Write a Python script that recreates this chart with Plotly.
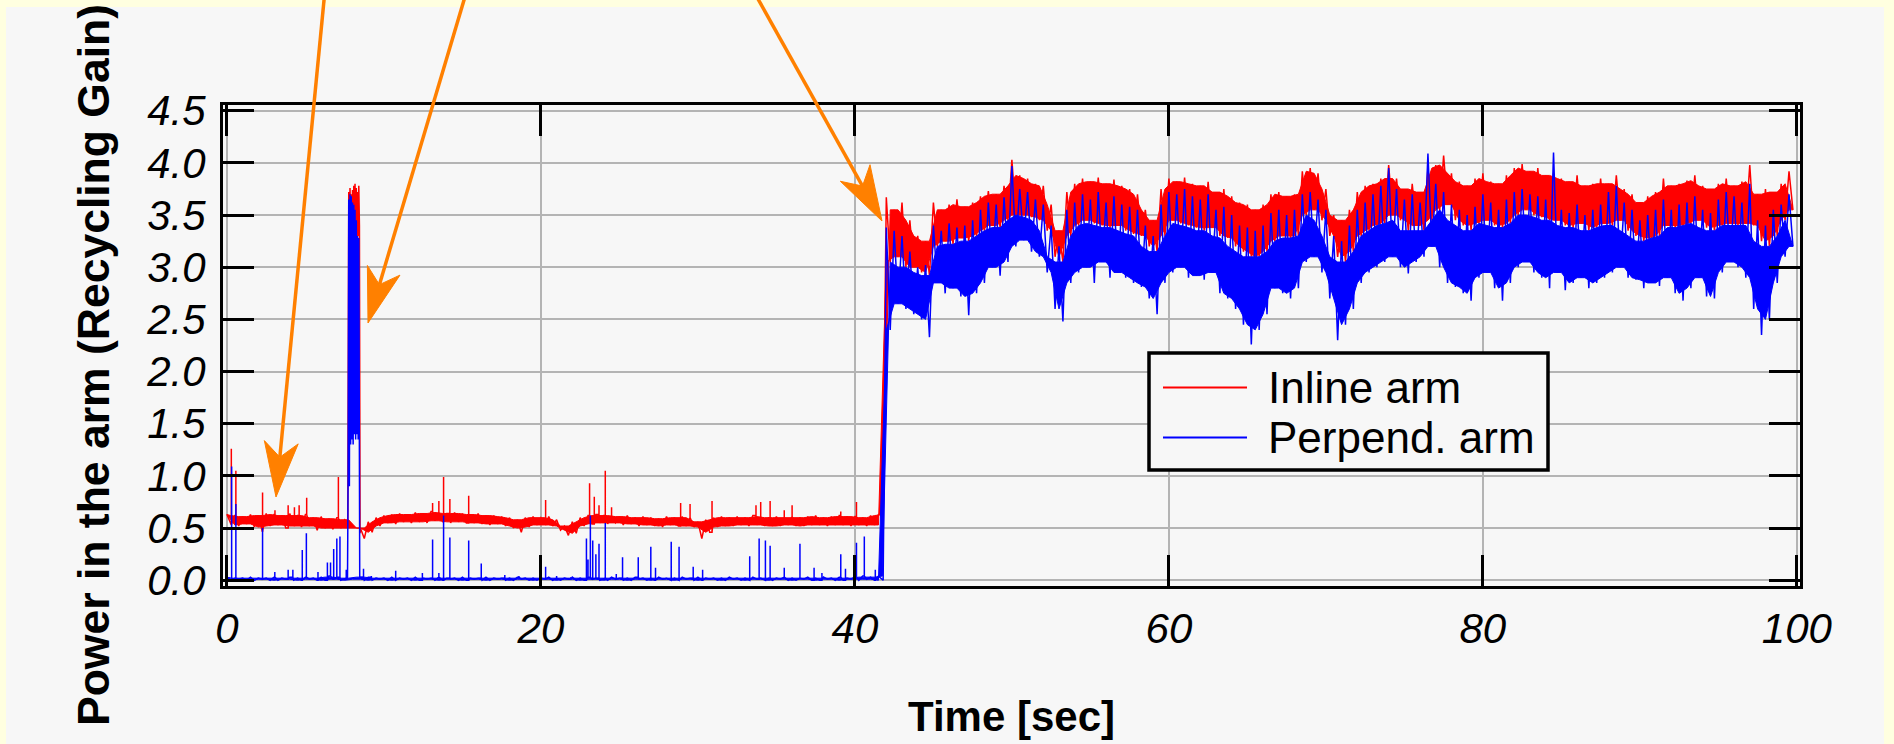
import plotly.graph_objects as go

# ---------------- data ----------------
# envelope of each trace in 0.5 s bins: bin start times 0.0 ... 99.5 s
bin_start = [i * 0.5 for i in range(200)]

inline_hi = [
    0.63, 0.62, 0.61, 0.63, 0.62, 0.64, 0.63, 0.62, 0.64, 0.62,
    0.63, 0.60, 0.61, 0.59, 0.60, 0.58, 0.60, 0.50, 0.56, 0.60,
    0.62, 0.63, 0.64, 0.63, 0.65, 0.64, 0.66, 0.65, 0.64, 0.65,
    0.64, 0.63, 0.64, 0.62, 0.62, 0.61, 0.60, 0.58, 0.60, 0.61,
    0.60, 0.61, 0.58, 0.52, 0.56, 0.60, 0.62, 0.63, 0.62, 0.62,
    0.61, 0.62, 0.60, 0.61, 0.60, 0.59, 0.61, 0.60, 0.61, 0.60,
    0.56, 0.58, 0.60, 0.61, 0.60, 0.61, 0.60, 0.62, 0.61, 0.60,
    0.61, 0.60, 0.61, 0.60, 0.61, 0.62, 0.60, 0.61, 0.62, 0.61,
    0.61, 0.60, 0.62, 0.63,
    3.67, 3.55, 3.62, 3.45, 3.30, 3.25, 3.62, 3.55, 3.60, 3.65,
    3.58, 3.62, 3.68, 3.73, 3.70, 3.78, 4.03, 3.88, 3.85, 3.80,
    3.78, 3.60, 3.35, 3.72, 3.80, 3.85, 3.82, 3.86, 3.80, 3.84,
    3.78, 3.75, 3.70, 3.55, 3.45, 3.75, 3.85, 3.82, 3.86, 3.80,
    3.78, 3.82, 3.72, 3.75, 3.68, 3.62, 3.60, 3.55, 3.60, 3.70,
    3.72, 3.68, 3.70, 3.92, 3.95, 3.90, 3.75, 3.50, 3.45, 3.55,
    3.72, 3.78, 3.80, 3.85, 3.98, 3.85, 3.75, 3.80, 3.72, 3.95,
    3.98, 4.07, 3.90, 3.82, 3.78, 3.85, 3.90, 3.82, 3.80, 3.88,
    3.95, 3.99, 3.92, 3.95, 3.88, 3.90, 3.85, 3.82, 3.88, 3.78,
    3.80, 3.85, 3.80, 3.88, 3.75, 3.70, 3.62, 3.68, 3.72, 3.85,
    3.78, 3.80, 3.83, 3.88, 3.78, 3.75, 3.80, 3.85, 3.78, 3.82,
    3.98, 3.70, 3.75, 3.72, 3.80, 3.92,
]
# lower edge of the visible red; above 42 s it is also where the solid blue ends
inline_lo = [
    0.53, 0.52, 0.54, 0.51, 0.47, 0.52, 0.53, 0.50, 0.52, 0.51,
    0.52, 0.48, 0.50, 0.49, 0.50, 0.48, 0.50, 0.40, 0.46, 0.52,
    0.55, 0.54, 0.56, 0.55, 0.56, 0.55, 0.57, 0.56, 0.55, 0.56,
    0.55, 0.55, 0.54, 0.53, 0.54, 0.52, 0.50, 0.46, 0.51, 0.53,
    0.53, 0.52, 0.48, 0.43, 0.45, 0.52, 0.54, 0.55, 0.54, 0.55,
    0.53, 0.54, 0.52, 0.53, 0.52, 0.51, 0.53, 0.52, 0.52, 0.51,
    0.40, 0.46, 0.51, 0.52, 0.52, 0.53, 0.52, 0.53, 0.52, 0.52,
    0.52, 0.53, 0.52, 0.52, 0.53, 0.53, 0.52, 0.53, 0.53, 0.52,
    0.53, 0.52, 0.53, 0.52,
    3.05, 3.10, 3.00, 3.00, 2.95, 2.92, 3.20, 3.25, 3.22, 3.28,
    3.25, 3.30, 3.35, 3.40, 3.38, 3.45, 3.50, 3.50, 3.48, 3.45,
    3.35, 3.10, 3.05, 3.30, 3.40, 3.45, 3.42, 3.40, 3.38, 3.40,
    3.35, 3.32, 3.30, 3.20, 3.15, 3.30, 3.45, 3.42, 3.40, 3.38,
    3.35, 3.38, 3.30, 3.28, 3.20, 3.15, 3.10, 3.10, 3.15, 3.25,
    3.30, 3.28, 3.30, 3.50, 3.55, 3.45, 3.30, 3.10, 3.05, 3.15,
    3.30, 3.35, 3.40, 3.42, 3.50, 3.45, 3.35, 3.40, 3.35, 3.45,
    3.55, 3.60, 3.45, 3.40, 3.35, 3.42, 3.45, 3.40, 3.38, 3.42,
    3.50, 3.55, 3.50, 3.48, 3.45, 3.45, 3.40, 3.38, 3.42, 3.35,
    3.38, 3.42, 3.40, 3.45, 3.35, 3.30, 3.25, 3.28, 3.30, 3.40,
    3.38, 3.40, 3.42, 3.45, 3.38, 3.35, 3.40, 3.42, 3.40, 3.42,
    3.40, 3.25, 3.20, 3.30, 3.45, 3.55,
]
perp_hi = [
    0.03, 0.02, 0.02, 0.03, 0.02, 0.02, 0.03, 0.02, 0.03, 0.02,
    0.03, 0.02, 0.03, 0.04, 0.03, 0.02, 0.03, 0.03, 0.03, 0.02,
    0.02, 0.03, 0.02, 0.02, 0.03, 0.02, 0.02, 0.03, 0.02, 0.02,
    0.03, 0.02, 0.02, 0.03, 0.02, 0.02, 0.02, 0.03, 0.02, 0.02,
    0.02, 0.03, 0.02, 0.02, 0.03, 0.02, 0.03, 0.02, 0.02, 0.03,
    0.02, 0.02, 0.03, 0.02, 0.02, 0.03, 0.02, 0.02, 0.03, 0.02,
    0.03, 0.02, 0.02, 0.02, 0.03, 0.02, 0.02, 0.03, 0.02, 0.02,
    0.02, 0.03, 0.02, 0.02, 0.03, 0.02, 0.03, 0.02, 0.03, 0.02,
    0.03, 0.04, 0.03, 0.04,
    3.38, 3.35, 3.30, 3.15, 3.00, 3.02, 3.40, 3.35, 3.42, 3.38,
    3.40, 3.45, 3.55, 3.62, 3.60, 3.67, 3.97, 3.75, 3.72, 3.65,
    3.60, 3.40, 3.20, 3.55, 3.62, 3.70, 3.65, 3.72, 3.62, 3.68,
    3.60, 3.58, 3.55, 3.40, 3.30, 3.60, 3.72, 3.70, 3.75, 3.68,
    3.65, 3.70, 3.55, 3.58, 3.50, 3.40, 3.38, 3.35, 3.40, 3.52,
    3.55, 3.50, 3.55, 3.70, 3.72, 3.65, 3.55, 3.30, 3.25, 3.40,
    3.55, 3.62, 3.70, 3.78, 3.95, 3.75, 3.65, 3.70, 3.62, 4.09,
    3.80, 3.72, 3.60, 3.55, 3.50, 3.58, 3.70, 3.62, 3.55, 3.65,
    3.72, 3.75, 3.70, 3.68, 3.65, 4.10, 3.55, 3.52, 3.60, 3.50,
    3.55, 3.60, 3.72, 3.78, 3.62, 3.55, 3.45, 3.50, 3.55, 3.65,
    3.55, 3.60, 3.62, 3.68, 3.55, 3.52, 3.65, 3.72, 3.68, 3.62,
    3.80, 3.45, 3.40, 3.55, 3.60, 3.70,
]
perp_lo = [
    0.00, 0.01, 0.00, 0.00, 0.01, 0.00, 0.00, 0.01, 0.00, 0.00,
    0.01, 0.00, 0.00, 0.01, 0.00, 0.00, 0.01, 0.00, 0.00, 0.01,
    0.00, 0.00, 0.01, 0.00, 0.00, 0.01, 0.00, 0.00, 0.01, 0.00,
    0.00, 0.01, 0.00, 0.00, 0.01, 0.00, 0.00, 0.01, 0.00, 0.00,
    0.01, 0.00, 0.00, 0.01, 0.00, 0.00, 0.01, 0.00, 0.00, 0.01,
    0.00, 0.00, 0.01, 0.00, 0.00, 0.01, 0.00, 0.00, 0.01, 0.00,
    0.00, 0.01, 0.00, 0.00, 0.01, 0.00, 0.00, 0.01, 0.00, 0.00,
    0.01, 0.00, 0.00, 0.01, 0.00, 0.00, 0.01, 0.00, 0.00, 0.01,
    0.00, 0.01, 0.00, 0.00,
    2.40, 2.65, 2.60, 2.55, 2.50, 2.33, 2.85, 2.75, 2.80, 2.72,
    2.54, 2.75, 2.85, 3.00, 2.92, 3.05, 3.20, 3.26, 3.15, 3.10,
    2.95, 2.60, 2.48, 2.85, 2.95, 3.00, 2.85, 3.05, 2.90, 2.95,
    2.90, 2.85, 2.81, 2.70, 2.55, 2.85, 2.95, 3.00, 2.90, 2.92,
    2.88, 2.95, 2.75, 2.70, 2.60, 2.45, 2.26, 2.40, 2.55, 2.80,
    2.75, 2.70, 2.80, 3.05, 3.10, 2.95, 2.70, 2.30, 2.45, 2.60,
    2.85, 2.95, 3.00, 3.05, 3.10, 3.00, 2.94, 3.05, 3.10, 3.20,
    3.00, 2.85, 2.81, 2.75, 2.68, 2.90, 2.95, 2.80, 2.68, 2.85,
    3.00, 3.05, 2.95, 2.90, 2.80, 2.95, 2.78, 2.85, 2.90, 2.80,
    2.85, 2.90, 2.95, 3.00, 2.90, 2.88, 2.80, 2.85, 2.82, 2.90,
    2.75, 2.68, 2.80, 2.90, 2.72, 2.70, 2.95, 3.05, 3.00, 2.90,
    2.60, 2.35, 2.50, 2.85, 3.10, 3.20,
]

# isolated single spikes (time s, peak value)
inline_spike_t = [0.28, 0.57, 2.27, 3.06, 3.9, 4.3, 4.6, 5.08, 7.1, 13.1, 13.5,
                  13.8, 14.2, 15.4, 20.3, 23.1, 23.4, 23.7, 24.1, 24.5, 28.9,
                  29.5, 30.9, 33.7, 34.0, 34.6, 35.5, 36.0, 39.1, 40.1, 41.7]
inline_spike_v = [1.26, 1.05, 0.84, 0.67, 0.72, 0.70, 0.72, 0.79, 0.99, 0.74, 0.76,
                  0.99, 0.78, 0.81, 0.77, 0.93, 0.80, 0.72, 1.05, 0.70, 0.74,
                  0.73, 0.76, 0.72, 0.75, 0.76, 0.67, 0.72, 0.66, 0.75, 0.80]
perp_spike_t = [0.3, 0.57, 2.27, 3.05, 3.9, 4.2, 4.8, 5.06, 5.8, 6.4, 6.6, 6.8,
                7.0, 7.2, 7.6, 8.7, 9.2, 10.75, 12.45, 13.1, 13.5, 13.8, 14.2,
                15.4, 16.2, 17.7, 18.6, 20.3, 21.0, 21.9, 22.9, 23.0, 23.15,
                23.3, 23.5, 23.7, 24.1, 24.8, 25.2, 26.2, 27.0, 27.3, 28.3,
                28.8, 29.7, 30.3, 33.3, 33.9, 34.3, 34.6, 35.5, 36.5, 37.4,
                37.9, 39.1, 39.4, 40.1, 40.6, 41.3, 41.8]
perp_spike_v = [1.09, 0.73, 0.50, 0.08, 0.10, 0.10, 0.29, 0.45, 0.08, 0.17, 0.17, 0.30,
                0.40, 0.42, 0.10, 0.11, 0.04, 0.09, 0.07, 0.39, 0.07, 0.62, 0.41,
                0.38, 0.16, 0.05, 0.04, 0.13, 0.04, 0.03, 0.40, 0.20, 0.62,
                0.38, 0.25, 0.35, 0.55, 0.06, 0.22, 0.22, 0.32, 0.12, 0.37,
                0.32, 0.13, 0.10, 0.23, 0.40, 0.38, 0.33, 0.12, 0.35, 0.12,
                0.07, 0.25, 0.11, 0.36, 0.42, 0.10, 0.41]

# short lock burst around t = 8 s (sampled finely)
inline_burst_t = [7.70, 7.76, 7.80, 7.84, 7.88, 7.92, 7.96, 8.00, 8.04, 8.08,
                  8.12, 8.16, 8.20, 8.24, 8.28, 8.32, 8.36, 8.40, 8.44, 8.48]
inline_burst_v = [0.55, 3.72, 3.30, 3.76, 3.35, 3.70, 3.30, 3.74, 3.28, 3.78,
                  3.30, 3.80, 3.32, 3.76, 3.28, 3.72, 3.30, 3.78, 3.40, 0.45]
perp_burst_t = [7.68, 7.72, 7.76, 7.80, 7.84, 7.88, 7.92, 7.96, 8.00, 8.04, 8.08,
                8.12, 8.16, 8.20, 8.24, 8.28, 8.32, 8.36, 8.40, 8.44, 8.46]
perp_burst_v = [0.02, 1.00, 3.65, 0.90, 3.70, 1.30, 3.68, 1.35, 3.62, 1.30, 3.60,
                1.40, 3.55, 1.35, 3.45, 1.40, 3.30, 1.35, 3.28, 1.30, 0.02]

lock_time = 42.0   # both arms lock from here on
x_ticks = [0, 20, 40, 60, 80, 100]
y_ticks = [0.0, 0.5, 1.0, 1.5, 2.0, 2.5, 3.0, 3.5, 4.0, 4.5]
series_names = ["Inline arm", "Perpend. arm"]
series_colors = ["#ff0000", "#0000ff"]


def build_line(hi, lo, spike_t, spike_v, burst_t, burst_v):
    """Zig-zag through the bin extremes, with spikes and the burst inserted."""
    pts = []
    for t, h, l in zip(bin_start, hi, lo):
        pts.append((t, h))
        pts.append((t + 0.25, l))
    b0, b1 = burst_t[0], burst_t[-1]
    pts = [p for p in pts if not (b0 <= p[0] <= b1)]
    pts += list(zip(burst_t, burst_v))
    pts.sort(key=lambda p: p[0])
    spikes = sorted(zip(spike_t, spike_v))
    out, j = [], 0
    for p in pts:
        while j < len(spikes) and spikes[j][0] < p[0]:
            base = out[-1][1] if out else p[1]
            st, sv = spikes[j]
            out += [(st, base), (st, sv), (st, base)]
            j += 1
        out.append(p)
    return [p[0] for p in out], [p[1] for p in out]


def build_body(top, bot):
    """Solid core of the noisy trace: the part covered by neighbouring bins."""
    n = len(top)
    up = [(bin_start[i] + 0.25, min(top[i], top[i + 1])) for i in range(n - 1)]
    dn = [(bin_start[i], max(bot[i - 1], bot[i])) for i in range(1, n)]
    poly = [(bin_start[0], top[0])] + up + [(bin_start[-1] + 0.25, bot[-1])] + dn[::-1]
    poly.append(poly[0])
    return [p[0] for p in poly], [p[1] for p in poly]


assert len(inline_hi) == len(inline_lo) == len(perp_hi) == len(perp_lo) == 200

# solid blue ends where the visible red begins once the arms are locked
perp_core_top = [inline_lo[i] if bin_start[i] >= lock_time else perp_hi[i]
                 for i in range(200)]

# ---------------- geometry (pixels) ----------------
W, H = 1894, 744
L, R, T, B = 223, 1800, 105, 586


def px(x):
    return (x - L) / (R - L)


def py(y):
    return (B - y) / (B - T)


fig = go.Figure()
series = [
    (inline_hi, inline_lo, inline_hi, inline_lo, inline_spike_t, inline_spike_v,
     inline_burst_t, inline_burst_v),
    (perp_hi, perp_lo, perp_core_top, perp_lo, perp_spike_t, perp_spike_v,
     perp_burst_t, perp_burst_v),
]
for k, (hi, lo, ctop, cbot, st, sv, bt, bv) in enumerate(series):
    bx_, by_ = build_body(ctop, cbot)
    fig.add_trace(go.Scatter(x=bx_, y=by_, mode="lines", fill="toself",
                             fillcolor=series_colors[k], name=series_names[k],
                             line=dict(color=series_colors[k], width=1),
                             showlegend=False, hoverinfo="skip"))
    lx, ly = build_line(hi, lo, st, sv, bt, bv)
    fig.add_trace(go.Scatter(x=lx, y=ly, mode="lines", name=series_names[k],
                             line=dict(color=series_colors[k], width=1.5),
                             showlegend=False))

FONT = "Liberation Sans, Arial, Helvetica, sans-serif"
axis_common = dict(
    showline=True, linewidth=3, linecolor="black", mirror="allticks",
    ticks="inside", ticklen=31, tickwidth=3, tickcolor="black",
    showgrid=True, gridcolor="#b4b4b4", gridwidth=1.5, zeroline=False,
    tickfont=dict(family=FONT, size=42, color="black", style="italic"),
    automargin=False,
)
fig.update_xaxes(range=[-0.25, 100.2], tickvals=x_ticks, ticklabelstandoff=4,
                 **axis_common)
fig.update_yaxes(range=[-0.055, 4.555], tickvals=y_ticks, tickformat=".1f",
                 ticklabelstandoff=6, **axis_common)

shapes = []
# page frame: light yellow border with grey panel
shapes.append(dict(type="rect", xref="paper", yref="paper", layer="below",
                   x0=px(6), x1=px(1884), y0=py(H + 5), y1=py(7),
                   fillcolor="#f7f7f7", line=dict(width=0)))

# orange pointer arrows (tail, tip) in pixels
arrows = [((325, -10), (276, 497)), ((467, -10), (368, 323)), ((753, -10), (882, 221))]
ORANGE = "#ff8000"
for (tx, ty), (hx, hy) in arrows:
    dx, dy = hx - tx, hy - ty
    n = (dx * dx + dy * dy) ** 0.5
    ux, uy = dx / n, dy / n
    vx, vy = -uy, ux
    hl, hw, notch = 55, 17, 40
    bx, by = hx - ux * hl, hy - uy * hl
    nx, ny = hx - ux * notch, hy - uy * notch
    shapes.append(dict(type="line", xref="paper", yref="paper", layer="above",
                       x0=px(tx), y0=py(ty), x1=px(nx), y1=py(ny),
                       line=dict(color=ORANGE, width=3.5)))
    path = "M {} {} L {} {} L {} {} L {} {} Z".format(
        px(hx), py(hy), px(bx + vx * hw), py(by + vy * hw),
        px(nx), py(ny), px(bx - vx * hw), py(by - vy * hw))
    shapes.append(dict(type="path", xref="paper", yref="paper", layer="above",
                       path=path, fillcolor=ORANGE, line=dict(color=ORANGE, width=1)))

# legend box
shapes.append(dict(type="rect", xref="paper", yref="paper", layer="above",
                   x0=px(1149), x1=px(1548), y0=py(470), y1=py(353),
                   fillcolor="#f7f7f7", line=dict(color="black", width=3.5)))
annotations = []
for i, yy in enumerate([387.5, 437.5]):
    shapes.append(dict(type="line", xref="paper", yref="paper", layer="above",
                       x0=px(1163), x1=px(1247), y0=py(yy), y1=py(yy),
                       line=dict(color=series_colors[i], width=2)))
    annotations.append(dict(xref="paper", yref="paper", x=px(1266), y=py(yy),
                            xanchor="left", yanchor="middle", showarrow=False,
                            text=series_names[i],
                            font=dict(family=FONT, size=44, color="black")))

# axis titles
annotations.append(dict(xref="paper", yref="paper", x=px(93), y=py(365),
                        xanchor="center", yanchor="middle", showarrow=False,
                        textangle=-90, text="Power in the arm (Recycling Gain)",
                        font=dict(family=FONT, size=44.5, color="black", weight="bold")))
annotations.append(dict(xref="paper", yref="paper", x=0.5, y=py(716),
                        xanchor="center", yanchor="middle", showarrow=False,
                        text="Time [sec]",
                        font=dict(family=FONT, size=42, color="black", weight="bold")))

fig.update_layout(
    width=W, height=H, autosize=False,
    margin=dict(l=L, r=W - R, t=T, b=H - B, pad=0),
    paper_bgcolor="#ffffe0", plot_bgcolor="#f7f7f7",
    shapes=shapes, annotations=annotations, showlegend=False,
)

fig.write_html("out.html")
